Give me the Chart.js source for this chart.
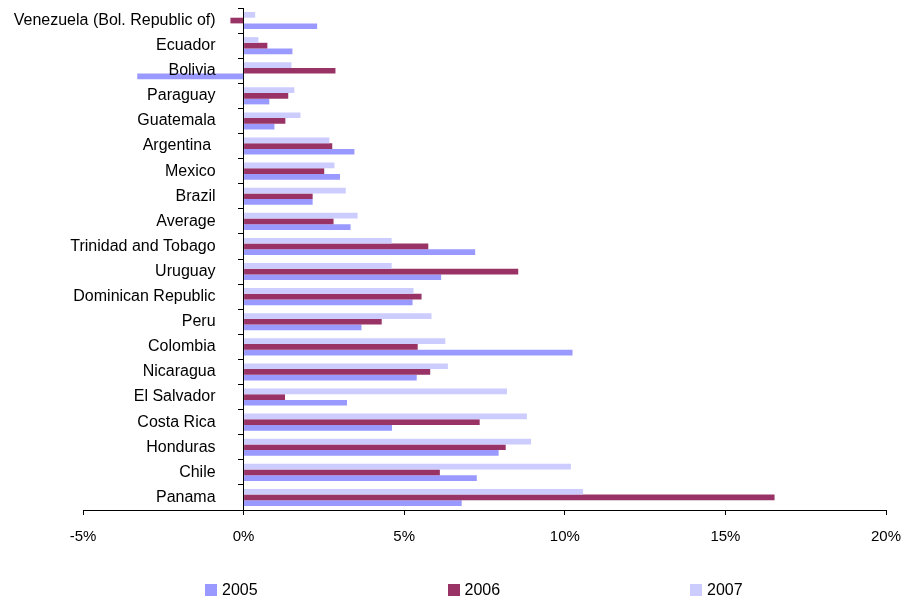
<!DOCTYPE html>
<html>
<head>
<meta charset="utf-8">
<script src="https://cdn.jsdelivr.net/npm/chart.js@4"></script>
<style>
    body { margin: 0; background: #fff; font-family: "Liberation Sans", Arial, sans-serif; }
    #wrap { position: relative; width: 906px; height: 600px; }
    #legend { position: absolute; left: 205px; top: 581px; display: flex; }
    .item { width: 242.5px; display: flex; align-items: center; font-size: 16px; color: #000; }
    .box { width: 12px; height: 12px; margin-right: 5px; }
</style>
</head>
<body>
<div id="wrap">
    <canvas id="chart" width="906" height="600"></canvas>
    <div id="legend"></div>
</div>
<script>
// Categories, top to bottom
const countries = [
    'Venezuela (Bol. Republic of)', 'Ecuador', 'Bolivia', 'Paraguay', 'Guatemala',
    'Argentina ', 'Mexico', 'Brazil', 'Average', 'Trinidad and Tobago',
    'Uruguay', 'Dominican Republic', 'Peru', 'Colombia', 'Nicaragua',
    'El Salvador', 'Costa Rica', 'Honduras', 'Chile', 'Panama'
];

// Values in %
const values2005 = [2.29, 1.52, -3.31, 0.80, 0.96, 3.45, 3.00, 2.15, 3.33, 7.21,
                    6.15, 5.26, 3.67, 10.24, 5.39, 3.22, 4.62, 7.94, 7.26, 6.79];
const values2006 = [-0.41, 0.74, 2.86, 1.39, 1.30, 2.76, 2.51, 2.15, 2.80, 5.75,
                    8.55, 5.54, 4.30, 5.42, 5.81, 1.29, 7.35, 8.16, 6.11, 16.53];
const values2007 = [0.36, 0.46, 1.49, 1.58, 1.77, 2.67, 2.83, 3.18, 3.55, 4.61,
                    4.61, 5.29, 5.85, 6.28, 6.36, 8.20, 8.82, 8.95, 10.19, 10.57];

const xTicks = [-5, 0, 5, 10, 15, 20];

// Within a category 2007 is on top, 2005 at the bottom
const datasets = [
    { label: '2007', data: values2007, backgroundColor: '#CCCCFF' },
    { label: '2006', data: values2006, backgroundColor: '#993366' },
    { label: '2005', data: values2005, backgroundColor: '#9999FF' }
];

// Category names sit left of the 0% line, drawn over the bars
const categoryLabels = {
    id: 'categoryLabels',
    afterDatasetsDraw(chart) {
        const { ctx, scales: { x, y } } = chart;
        const right = x.getPixelForValue(0) - 28;
        ctx.save();
        ctx.font = '16px "Liberation Sans", Arial, sans-serif';
        ctx.fillStyle = '#000';
        ctx.textAlign = 'right';
        ctx.textBaseline = 'middle';
        chart.data.labels.forEach((label, i) => {
            ctx.fillText(label, right, y.getPixelForTick(i));
        });
        ctx.restore();
    }
};

new Chart(document.getElementById('chart').getContext('2d'), {
    type: 'bar',
    data: { labels: countries, datasets: datasets },
    plugins: [categoryLabels],
    options: {
        indexAxis: 'y',
        responsive: false,
        animation: false,
        categoryPercentage: 0.68,
        barPercentage: 1,
        layout: { padding: { left: 83, right: 20, top: 8, bottom: 41 } },
        plugins: {
            legend: { display: false },
            tooltip: { enabled: false }
        },
        scales: {
            x: {
                min: xTicks[0],
                max: xTicks[xTicks.length - 1],
                afterBuildTicks: (scale) => {
                    scale.ticks = xTicks.map(v => ({ value: v }));
                },
                ticks: {
                    color: '#000',
                    font: { family: '"Liberation Sans", Arial', size: 15, lineHeight: 2.4 },
                    padding: 4,
                    maxRotation: 0,
                    callback: (v) => v + '%'
                },
                grid: { drawOnChartArea: false, tickLength: 5, color: '#000' },
                border: { color: '#000' }
            },
            y: {
                position: { x: 0 },
                ticks: { display: false },
                grid: { drawOnChartArea: false, tickLength: 5, color: '#000', offset: true },
                border: { color: '#000' }
            }
        }
    }
});

// Legend in the order 2005, 2006, 2007
const legend = document.getElementById('legend');
datasets.slice().reverse().forEach(ds => {
    const item = document.createElement('div');
    item.className = 'item';
    item.innerHTML = `<span class="box" style="background:${ds.backgroundColor}"></span>${ds.label}`;
    legend.appendChild(item);
});
</script>
</body>
</html>
